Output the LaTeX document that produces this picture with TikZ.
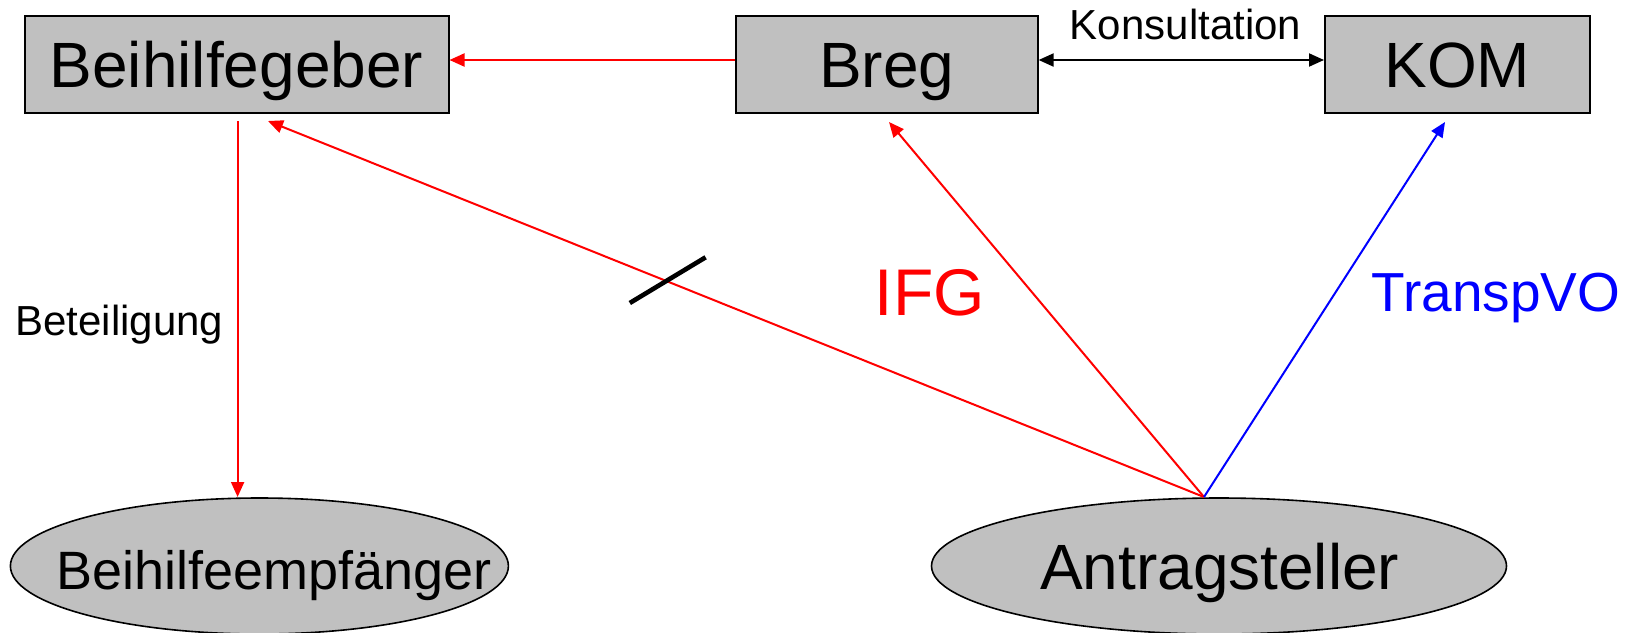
\documentclass[tikz,border=0pt]{standalone}
\usepackage{fontspec}
\setmainfont{Liberation Sans}
\usetikzlibrary{arrows.meta,shapes.geometric}
\definecolor{boxgray}{RGB}{192,192,192}
\begin{document}
\begin{tikzpicture}[x=0.5pt,y=-0.5pt,
  box/.style={draw=black, line width=1pt, fill=boxgray, rectangle, inner sep=0pt,
    minimum height=48.5pt, text height=36pt, text depth=12.5pt,
    font=\fontsize{32}{36}\selectfont},
  oval/.style={draw=black, line width=0.8pt, fill=boxgray, ellipse, inner sep=0pt,
    minimum height=68pt},
  big/.style={font=\fontsize{32}{36}\selectfont, inner sep=0pt, anchor=base},
  small/.style={font=\fontsize{21}{24}\selectfont, inner sep=0pt, anchor=base},
  arr/.style={line width=1pt, -{Triangle[length=7.5pt,width=6.5pt]}},
]
\useasboundingbox (0,0) rectangle (1627,632);
\begin{scope}
  \clip (0,0) rectangle (1627,632);
  \node[oval, minimum width=249pt] (empf) at (259.4,566) {};
  \node[oval, minimum width=287.5pt] (antr) at (1219,566) {};
\end{scope}
\node[font=\fontsize{27}{30}\selectfont, inner sep=0pt, anchor=base] (empftext) at (274,589.4) {Beihilfeempfänger};
\node[big] (antrtext) at (1219.7,589.4) {Antragsteller};

\node[box, minimum width=212pt] (geber) at (236.5,64) {Beihilfegeber};
\node[box, minimum width=151pt] (breg) at (886.6,64) {Breg};
\node[box, minimum width=132.3pt] (kom) at (1457.3,64) {KOM};

\node[small] (kons) at (1185.5,39.4) {Konsultation};
\node[small] (beteil) at (119.3,335) {Beteiligung};
\node[font=\fontsize{33}{36}\selectfont, inner sep=0pt, anchor=base, text=red] (ifg) at (929.7,315.4) {IFG};
\node[font=\fontsize{27.5}{30}\selectfont, inner sep=0pt, anchor=base, text=blue] (transp) at (1496,311.3) {TranspVO};

\coordinate (src) at (1204,497);
\coordinate (tipgeber) at (268,121);
\coordinate (tipbreg) at (889,122);
\coordinate (tipkom) at (1445,122);
\coordinate (gebfoot) at (237.6,121);
\coordinate (empftop) at (237.6,497);
\coordinate (slashA) at (629.8,303);
\coordinate (slashB) at (705.6,257.3);

\draw[arr, red] ([yshift=2pt]breg.west) -- ([yshift=2pt]geber.east);
\draw[line width=1pt, {Triangle[length=7.5pt,width=6.5pt]}-{Triangle[length=7.5pt,width=6.5pt]}] ([yshift=2pt]breg.east) -- ([yshift=2pt]kom.west);
\draw[arr, red] (gebfoot) -- (empftop);
\draw[arr, red] (src) -- (tipgeber);
\draw[arr, red] (src) -- (tipbreg);
\draw[arr, blue] (src) -- (tipkom);
\draw[line width=2.3pt] (slashA) -- (slashB);
\end{tikzpicture}
\end{document}
